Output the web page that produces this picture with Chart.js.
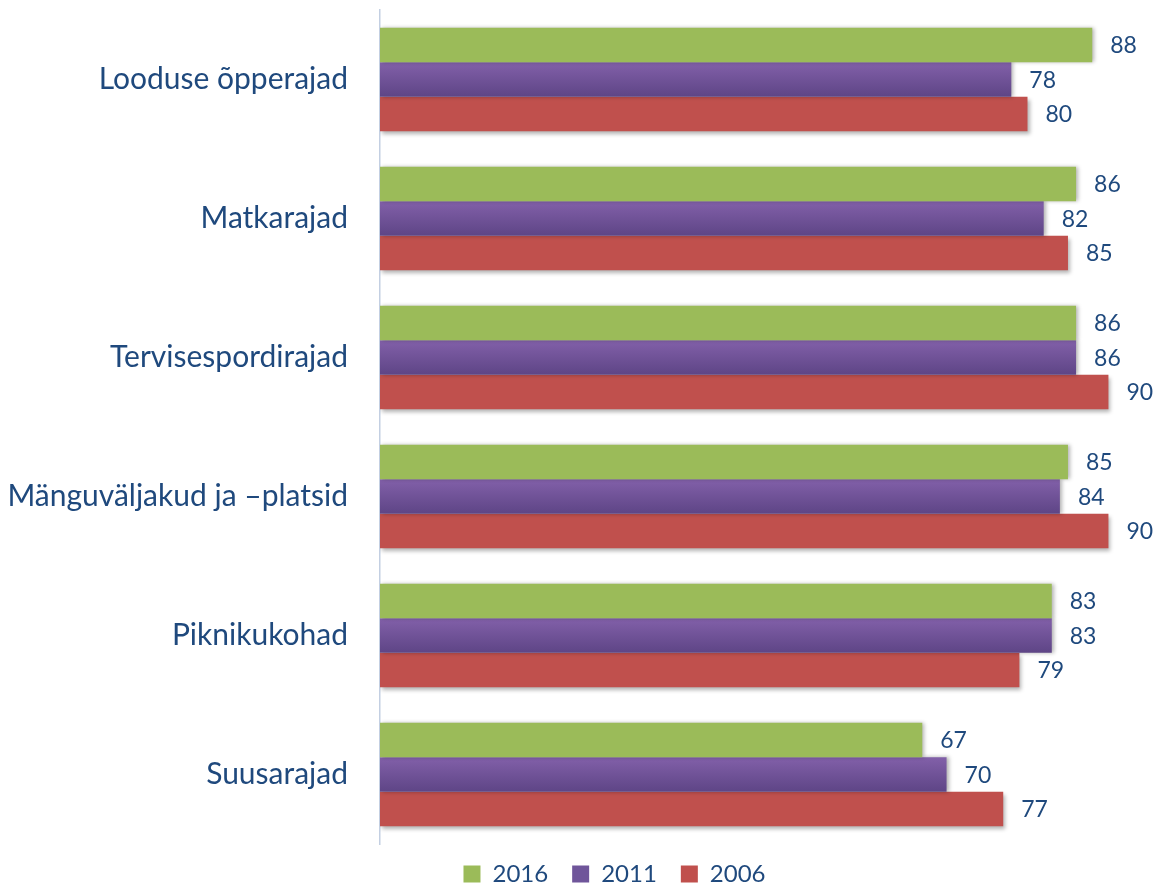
<!DOCTYPE html>
<html>
<head>
<meta charset="utf-8">
<script src="https://cdn.jsdelivr.net/npm/chart.js@4"></script>
<style>
  html, body { margin: 0; padding: 0; background: #ffffff; }
  #wrap { width: 1164px; height: 887px; }
</style>
</head>
<body>
<div id="wrap"><canvas id="c" width="1164" height="887"></canvas></div>
<script>
const categories = ["Looduse õpperajad", "Matkarajad", "Tervisespordirajad", "Mänguväljakud ja –platsid", "Piknikukohad", "Suusarajad"];
const seriesNames = ["2016", "2011", "2006"];
const values2016 = [88, 86, 86, 85, 83, 67];
const values2011 = [78, 82, 86, 84, 83, 70];
const values2006 = [80, 85, 90, 90, 79, 77];

const LABEL_COLOR = '#1F497D';
const FONT = 'Lato, "Open Sans", sans-serif';

function purpleGradient(context) {
  const chart = context.chart;
  const y = chart.scales && chart.scales.y;
  if (!y || context.dataIndex === undefined || !isFinite(y.getPixelForValue(context.dataIndex))) return '#7A5CA3';
  const c = y.getPixelForValue(context.dataIndex);
  const step = y.getPixelForValue(1) - y.getPixelForValue(0);
  const h = Math.abs(step) * 0.745 / 3;
  const g = chart.ctx.createLinearGradient(0, c - h / 2, 0, c + h / 2);
  g.addColorStop(0, '#8260A9');
  g.addColorStop(1, '#5E4586');
  return g;
}

const shadowPlugin = {
  id: 'shadow',
  beforeDatasetDraw(chart, args) {
    const ctx = chart.ctx;
    ctx.save();
    ctx.shadowColor = 'rgba(0,0,0,0.30)';
    ctx.shadowBlur = 4;
    ctx.shadowOffsetX = 2;
    ctx.shadowOffsetY = args.index === 2 ? 3 : 0;
  },
  afterDatasetDraw(chart) {
    chart.ctx.restore();
  }
};

const valueLabels = {
  id: 'valueLabels',
  afterDatasetsDraw(chart) {
    const ctx = chart.ctx;
    ctx.save();
    ctx.font = '23px ' + FONT;
    ctx.fillStyle = LABEL_COLOR;
    ctx.textAlign = 'left';
    ctx.textBaseline = 'middle';
    chart.data.datasets.forEach((ds, di) => {
      const meta = chart.getDatasetMeta(di);
      meta.data.forEach((el, i) => {
        ctx.fillText(String(ds.data[i]), el.x + 18, el.y + 1);
      });
    });
    ctx.restore();
  }
};

const legendShift = {
  id: 'legendShift',
  afterLayout(chart) {
    if (chart.legend) {
      chart.legend.left += 36;
      chart.legend.right += 36;
      chart.legend.top -= 6;
      chart.legend.bottom -= 6;
    }
  }
};

new Chart(document.getElementById('c'), {
  type: 'bar',
  data: {
    labels: categories,
    datasets: [
      { label: seriesNames[0], data: values2016, backgroundColor: '#9BBB59' },
      { label: seriesNames[1], data: values2011, backgroundColor: purpleGradient },
      { label: seriesNames[2], data: values2006, backgroundColor: '#C0504D' }
    ]
  },
  options: {
    indexAxis: 'y',
    responsive: false,
    animation: false,
    devicePixelRatio: 1,
    categoryPercentage: 0.745,
    barPercentage: 1,
    layout: { padding: { top: 10, right: 7, left: 0, bottom: -15 } },
    scales: {
      x: { display: false, min: 0, max: 96 },
      y: {
        grid: { display: true, color: 'rgba(0,0,0,0)', drawTicks: false },
        border: { display: true, color: '#C3CFE2', width: 1.5 },
        ticks: { color: LABEL_COLOR, font: { family: FONT, size: 30 }, padding: 32 },
        afterFit(scale) {
          scale.width = 380;
          scale.paddingTop = 0;
          scale.paddingBottom = 0;
        }
      }
    },
    plugins: {
      legend: {
        position: 'bottom',
        labels: {
          color: LABEL_COLOR,
          font: { family: FONT, size: 24 },
          boxWidth: 17,
          boxHeight: 17,
          padding: 24,
          generateLabels(chart) {
            const items = Chart.defaults.plugins.legend.labels.generateLabels(chart);
            const fills = ['#9BBB59', '#6F559A', '#C0504D'];
            items.forEach(it => { it.fillStyle = fills[it.datasetIndex]; it.strokeStyle = fills[it.datasetIndex]; it.lineWidth = 0; });
            return items;
          }
        }
      },
      tooltip: { enabled: false }
    }
  },
  plugins: [shadowPlugin, valueLabels, legendShift]
});
</script>
</body>
</html>
